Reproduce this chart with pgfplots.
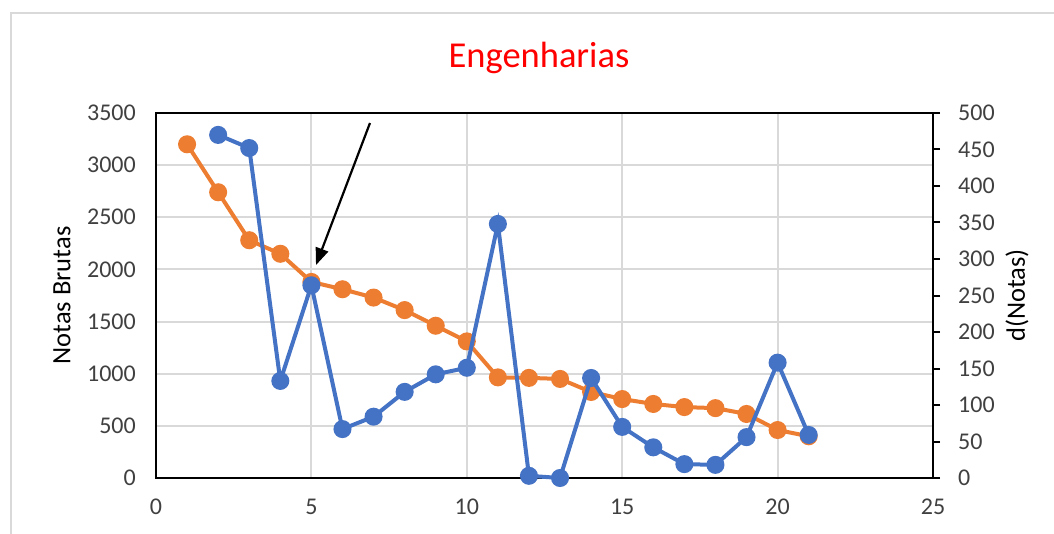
\documentclass[border=0pt]{standalone}
\usepackage{pgfplots}
\pgfplotsset{compat=1.18}
\usepackage{fontspec}
\setmainfont{Carlito}
\usetikzlibrary{arrows.meta}

\definecolor{xorange}{HTML}{ED7D31}
\definecolor{xblue}{HTML}{4472C4}
\definecolor{xgrid}{HTML}{D9D9D9}
\definecolor{xtext}{HTML}{404040}

\pgfplotsset{
  common/.style={
    scale only axis, width=777pt, height=365pt,
    xmin=0, xmax=25, at={(0,0)}, anchor=south west,
    /pgf/number format/assume math mode=true,
    /pgf/number format/1000 sep={},
    ticklabel style={font=\fontsize{24}{29}\selectfont, text=xtext, inner sep=0pt},
    label style={font=\fontsize{26.5}{32}\selectfont, text=black},
    clip=false,
  }
}

\begin{document}
\begin{tikzpicture}
\useasboundingbox (-156pt,-55pt) rectangle (898pt,478pt);
\draw[xgrid, line width=2.5pt] (-145pt,-60pt) -- (-145pt,465pt) -- (905pt,465pt);

\begin{axis}[common,
  ymin=0, ymax=3500, ytick={0,500,...,3500}, xtick={0,5,...,25},
  grid=major, major grid style={xgrid, line width=2pt},
  axis line style={black, line width=2.2pt},
  tick style={draw=none},
  yticklabel style={anchor=east, xshift=-20pt},
  xticklabel style={anchor=north, yshift=-21pt},
  ylabel={Notas Brutas},
  ylabel style={at={(axis description cs:-0.121,0.5)}, anchor=center},
]
\addplot[xorange, line width=4pt, mark=*, mark size=7pt, mark options={solid, fill=xorange, draw=xorange}]
coordinates {
(1,3200) (2,2740) (3,2280) (4,2150) (5,1880) (6,1810) (7,1730) (8,1610) (9,1460) (10,1310)
(11,965) (12,960) (13,950) (14,825) (15,757) (16,710) (17,680) (18,670) (19,614) (20,460) (21,400)
};
\draw[-{Triangle[length=17pt,width=13pt]}, line width=2.2pt, black] (axis cs:6.885,3404) -- (axis cs:5.148,2042);
\end{axis}

\begin{axis}[common,
  ymin=0, ymax=500, ytick={0,50,...,500},
  axis y line*=right, axis x line=none,
  axis line style={black, line width=2.2pt},
  tick align=outside, major tick length=7pt,
  ytick style={black, line width=2pt},
  yticklabel style={anchor=west, xshift=18pt},
  ylabel={d(Notas)},
  ylabel style={at={(axis description cs:1.108,0.5)}, anchor=center},
]
\addplot[xblue, line width=4pt, mark=*, mark size=7pt, mark options={solid, fill=xblue, draw=xblue}]
coordinates {
(2,470) (3,452) (4,133) (5,264) (6,67) (7,84) (8,118) (9,142) (10,151) (11,348)
(12,3) (13,0) (14,137) (15,70) (16,42) (17,19) (18,18) (19,56) (20,158) (21,59)
};
\end{axis}

\node[font=\fontsize{36.5}{44}\selectfont, text=red] at (383pt,420pt) {Engenharias};
\end{tikzpicture}
\end{document}
